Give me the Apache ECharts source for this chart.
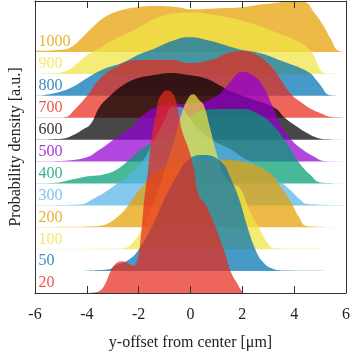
<!DOCTYPE html>
<html>
<head>
<meta charset="utf-8">
<script src="https://cdn.jsdelivr.net/npm/echarts@6/dist/echarts.min.js"></script>
<style>
  html, body { margin: 0; padding: 0; background: #fff; }
  #chart { width: 353px; height: 356px; }
</style>
</head>
<body>
<div id="chart"></div>
<script>
// row labels, bottom row first
const rowNames = ['20', '50', '100', '200', '300', '400', '500', '600', '700', '800', '900', '1000']
const rowColors = ['#E8291C', '#0072B2', '#F0E442', '#E69F00', '#56B4E9', '#009E73',
  '#9400D3', '#000000', '#E8291C', '#0072B2', '#F0E442', '#E69F00']

// density curves: [offset in µm, height in row units]
const d20 = [[-6, 0], [-3.9, 0], [-3.75, 0.02], [-3.5, 0.1], [-3.3, 0.4], [-3.1, 0.95], [-2.92, 1.3],
  [-2.65, 1.45], [-2.39, 1.35], [-2.23, 1.25], [-2.05, 1.5], [-1.9, 2.8], [-1.78, 4.3], [-1.65, 5.5],
  [-1.48, 7.2], [-1.3, 8.4], [-1.2, 8.9], [-0.9, 9.25], [-0.6, 8.9], [-0.35, 7.5], [-0.08, 6.6],
  [0.11, 5.77], [0.3, 4.5], [0.6, 4.0], [0.95, 3.04], [1.33, 1.83], [1.55, 0.98], [1.82, 0.4],
  [2.0, 0.05], [2.1, 0], [6, 0]]
const d50 = [[-6, 0.01], [-4.4, 0.01], [-3.94, 0.02], [-3.5, 0.05], [-3.1, 0.1], [-2.88, 0.27],
  [-2.42, 0.5], [-2.05, 0.9], [-1.5, 2.0], [-1.0, 3.3], [-0.5, 4.4], [-0.08, 5.1], [0.5, 5.3],
  [1.17, 5.0], [1.6, 4.1], [1.9, 3.2], [2.2, 2.0], [2.5, 1.0], [2.77, 0.45], [3.15, 0.12],
  [3.64, 0.03], [6, 0.01]]
const d100 = [[-6, 0.01], [-2.9, 0.02], [-2.54, 0.05], [-2.27, 0.25], [-1.97, 0.7], [-1.6, 1.6],
  [-1.2, 2.8], [-0.95, 3.8], [-0.72, 4.6], [-0.34, 6.2], [-0.08, 6.9], [0.1, 7.07], [0.34, 6.8],
  [0.5, 6.6], [0.76, 5.5], [1.0, 4.4], [1.25, 3.5], [1.55, 3.0], [1.9, 2.8], [2.27, 1.8],
  [2.65, 0.95], [3.03, 0.2], [3.26, 0.03], [6, 0.01]]
const d200 = [[-6, 0.01], [-4.73, 0.02], [-3.75, 0.05], [-3.3, 0.12], [-2.9, 0.4], [-2.5, 0.85],
  [-2.05, 1.6], [-1.5, 2.3], [-1.0, 2.75], [-0.3, 3.0], [0.5, 3.05], [1.0, 3.1], [2.0, 3.0],
  [3.03, 2.5], [3.5, 1.8], [3.9, 1.1], [4.17, 0.5], [4.5, 0.05], [6, 0.01]]
const d300 = [[-6, 0.01], [-4.77, 0.02], [-4.2, 0.05], [-3.75, 0.3], [-3.3, 0.6], [-2.88, 0.95],
  [-2.35, 1.4], [-1.86, 2.0], [-1.4, 3.0], [-1.0, 3.9], [-0.7, 4.5], [-0.4, 4.5], [-0.1, 4.1],
  [0.3, 3.5], [0.8, 3.0], [1.5, 2.6], [2.0, 2.2], [2.5, 1.9], [2.9, 1.6], [3.4, 1.15], [3.9, 0.65],
  [4.2, 0.3], [4.5, 0.06], [6, 0.01]]
const d400 = [[-6, 0.01], [-5.3, 0.02], [-4.5, 0.2], [-3.94, 0.33], [-3.4, 0.4], [-2.9, 0.6],
  [-2.35, 1.1], [-1.86, 1.6], [-1.2, 2.0], [-0.64, 2.3], [-0.08, 3.0], [0.5, 3.35], [1.25, 3.4],
  [2.0, 3.4], [2.65, 3.15], [3.14, 2.7], [3.64, 1.97], [4.17, 0.98], [4.66, 0.35], [5.0, 0.05],
  [6, 0.01]]
const d500 = [[-6, 0.01], [-5.3, 0.02], [-4.13, 0.15], [-3.5, 0.55], [-2.9, 1.07], [-2.23, 1.6],
  [-2.05, 1.9], [-1.4, 2.45], [-0.76, 2.6], [0.1, 2.65], [0.95, 2.95], [1.44, 3.5], [2.0, 4.1],
  [2.39, 3.95], [2.77, 3.5], [3.14, 2.6], [3.52, 1.6], [3.9, 0.98], [4.28, 0.58], [4.77, 0.22],
  [5.15, 0.03], [6, 0.01]]
const d600 = [[-6, 0.01], [-5.3, 0.02], [-4.9, 0.05], [-4.5, 0.22], [-4.17, 0.45], [-3.86, 0.7],
  [-3.5, 1.5], [-3.1, 2.0], [-2.65, 2.45], [-2.05, 2.8], [-1.4, 2.95], [-0.72, 3.04], [-0.34, 3.0],
  [0.57, 2.8], [1.17, 2.45], [1.55, 2.2], [2.39, 1.85], [3.26, 1.45], [3.64, 1.0], [4.1, 0.6],
  [4.5, 0.3], [4.85, 0.1], [5.2, 0.02], [6, 0.01]]
const d700 = [[-6, 0.01], [-5.2, 0.01], [-4.77, 0.05], [-4.55, 0.27], [-3.94, 1.07], [-3.56, 1.7],
  [-2.92, 2.28], [-2.05, 2.64], [-0.72, 2.65], [-0.08, 2.5], [0.8, 2.64], [1.44, 2.95], [2.08, 3.04],
  [2.58, 2.85], [3.14, 2.3], [3.5, 1.7], [3.9, 1.05], [4.28, 0.7], [4.66, 0.4], [5.04, 0.2],
  [5.4, 0.05], [5.7, 0.02], [6, 0.01]]
const d800 = [[-6, 0.01], [-5.64, 0.04], [-5.0, 0.2], [-4.55, 0.4], [-3.94, 0.85], [-3.3, 1.25],
  [-2.65, 1.5], [-1.97, 1.9], [-1.4, 2.15], [-0.72, 2.5], [-0.08, 2.68], [0.8, 2.5], [1.8, 2.15],
  [2.77, 1.92], [3.5, 1.6], [4.28, 1.25], [4.66, 1.0], [4.8, 0.8], [5.04, 0.45], [5.3, 0.06],
  [5.5, 0.02], [6, 0.01]]
const d900 = [[-6, 0.01], [-5.3, 0.03], [-4.77, 0.15], [-4.4, 0.45], [-4.0, 0.85], [-3.5, 1.2],
  [-2.9, 1.6], [-2.2, 2.0], [-1.5, 2.45], [-0.95, 2.7], [-0.5, 2.78], [0, 2.8], [1.17, 2.64],
  [2.08, 2.4], [3.26, 1.92], [4.17, 1.48], [4.55, 1.16], [4.75, 0.85], [4.92, 0.4], [5.1, 0.08],
  [5.3, 0.02], [6, 0.01]]
const d1000 = [[-6, 0.05], [-5.0, 0.1], [-4.55, 0.27], [-4.17, 0.67], [-3.79, 1.12], [-3.3, 1.6],
  [-2.65, 1.92], [-2.05, 2.05], [-1.4, 2.1], [-0.5, 2.05], [0.04, 1.95], [1.06, 2.0], [2.0, 2.05],
  [2.95, 2.2], [4.0, 2.3], [4.4, 2.28], [4.77, 1.8], [5.15, 1.16], [5.42, 0.58], [5.68, 0.08],
  [6, 0.01]]
const ridges = [d20, d50, d100, d200, d300, d400, d500, d600, d700, d800, d900, d1000]

const xTicks = { min: -6, max: 6, interval: 2 }
const yMax = 13.33

const font = 'Liberation Serif'
const chart = echarts.init(document.getElementById('chart'))

// back rows first, so the bottom row ends up in front
const series = []
for (let i = ridges.length - 1; i >= 0; i--) {
  series.push({
    type: 'line',
    name: rowNames[i],
    data: ridges[i].map(p => [p[0], i + p[1]]),
    smooth: 0.45,
    symbol: 'none',
    lineStyle: { width: 0 },
    areaStyle: { origin: i, color: rowColors[i], opacity: 0.72 },
    silent: true,
    z: 2
  })
}

// row labels
series.push({
  type: 'scatter',
  symbolSize: 1,
  itemStyle: { color: 'rgba(0,0,0,0)' },
  silent: true,
  z: 5,
  data: rowNames.map((n, i) => ({
    name: n,
    value: [xTicks.min, i + 0.45],
    label: { color: rowColors[i] }
  })),
  label: {
    show: true,
    position: 'right',
    distance: 3,
    formatter: '{b}',
    fontFamily: font,
    fontSize: 16
  }
})

const axisLine = { show: true, onZero: false, lineStyle: { color: '#333', width: 1 } }

const option = {
  animation: false,
  grid: { left: 29, right: 7, top: 1, bottom: 57 },
  xAxis: [
    {
      type: 'value',
      min: xTicks.min,
      max: xTicks.max,
      interval: xTicks.interval,
      z: 10,
      name: 'y-offset from center [μm]',
      nameLocation: 'middle',
      nameGap: 42,
      nameTextStyle: { fontFamily: font, fontSize: 16, color: '#222' },
      axisLine: axisLine,
      axisTick: { show: true, inside: true, length: 7, lineStyle: { color: '#333' } },
      axisLabel: { fontFamily: font, fontSize: 16, color: '#222', margin: 14 },
      splitLine: { show: false }
    },
    {
      type: 'value',
      position: 'top',
      min: xTicks.min,
      max: xTicks.max,
      interval: xTicks.interval,
      z: 10,
      axisLine: axisLine,
      axisTick: { show: true, inside: true, length: 7, lineStyle: { color: '#333' } },
      axisLabel: { show: false },
      splitLine: { show: false }
    }
  ],
  yAxis: [
    {
      type: 'value',
      min: 0,
      max: yMax,
      z: 10,
      name: 'Probability density [a.u.]',
      nameLocation: 'middle',
      nameGap: 11,
      nameTextStyle: { fontFamily: font, fontSize: 16, color: '#222' },
      axisLine: axisLine,
      axisTick: { show: false },
      axisLabel: { show: false },
      splitLine: { show: false }
    },
    {
      type: 'value',
      position: 'right',
      min: 0,
      max: yMax,
      z: 10,
      axisLine: axisLine,
      axisTick: { show: false },
      axisLabel: { show: false },
      splitLine: { show: false }
    }
  ],
  series: series
}

chart.setOption(option)
</script>
</body>
</html>
